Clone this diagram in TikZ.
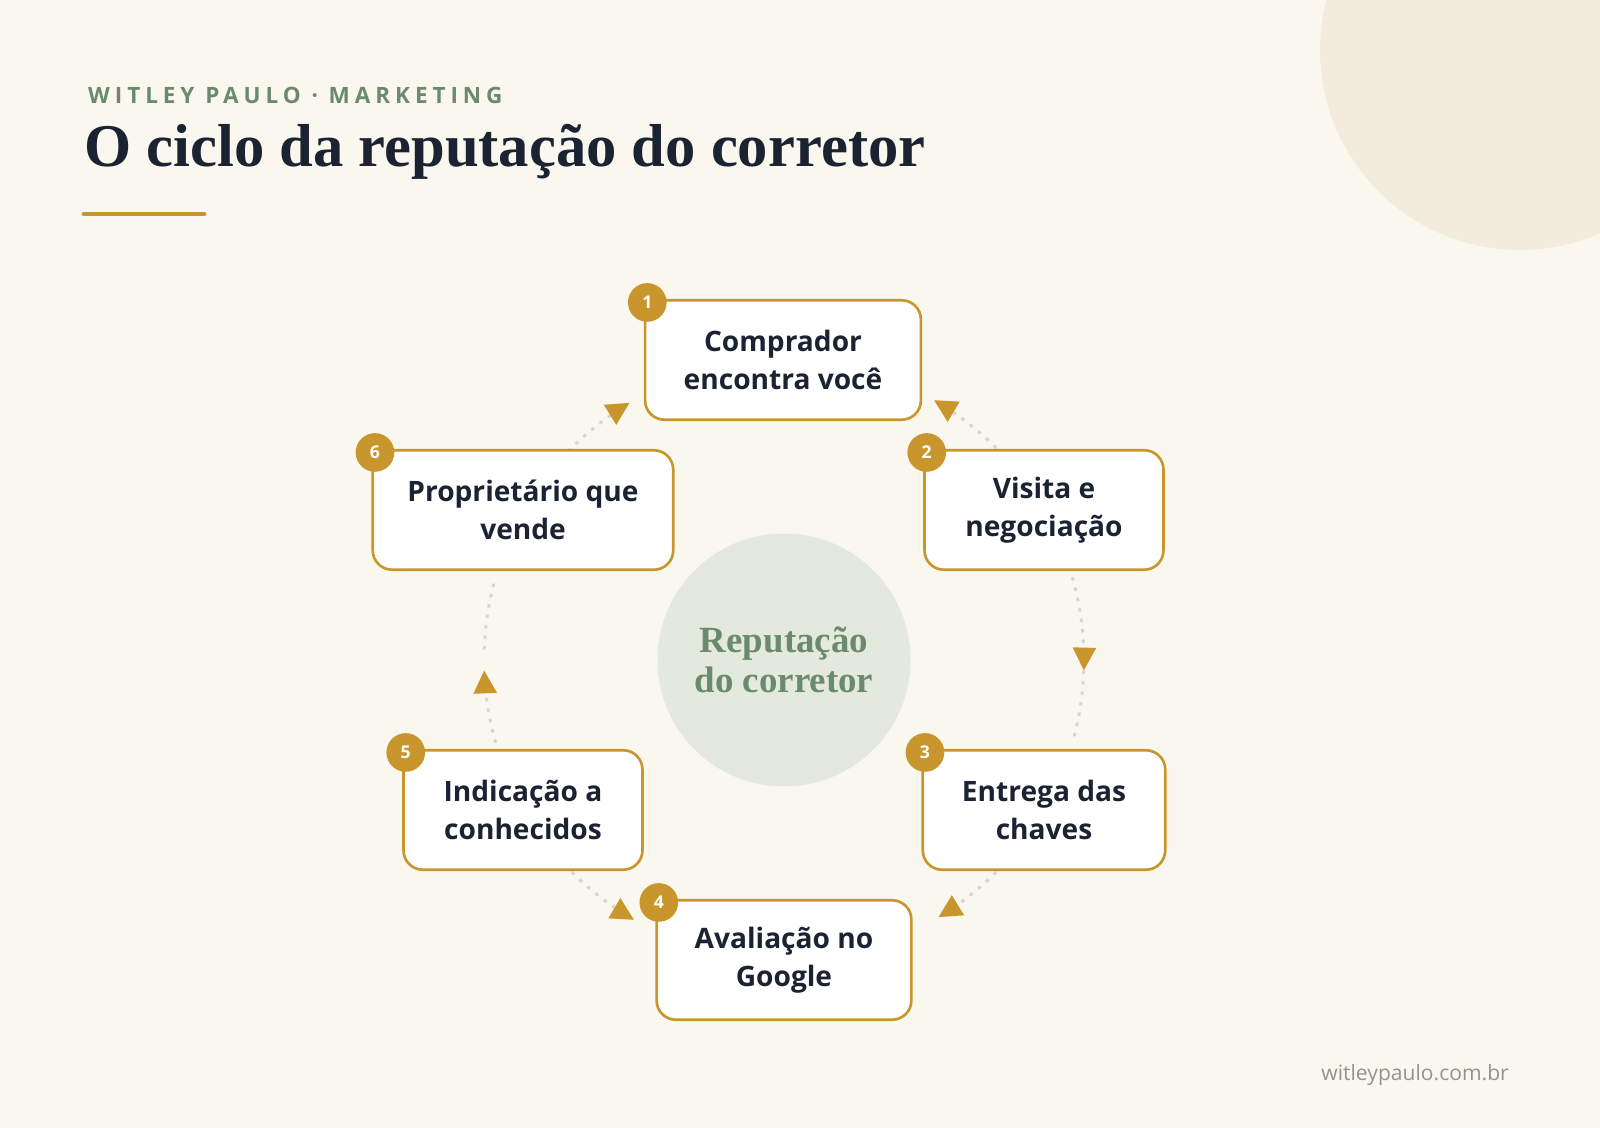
\documentclass[tikz,border=0pt]{standalone}
\usepackage{fontspec}
\setmainfont{Liberation Serif}
\setsansfont{Open Sans}
\newfontfamily\headfont[LetterSpace=22]{Open Sans}
\usetikzlibrary{arrows.meta,positioning}
\definecolor{bgcream}{HTML}{FAF7EF}
\definecolor{deco}{HTML}{F3ECDD}
\definecolor{gold}{HTML}{C9962E}
\definecolor{ink}{HTML}{1B2333}
\definecolor{sage}{HTML}{6B8A6B}
\definecolor{hub}{HTML}{E3E9DC}
\definecolor{dots}{HTML}{D9D6CC}
\tikzset{
  stage/.style={
    draw=gold, line width=1.5pt, fill=white, rounded corners=11pt,
    minimum height=68pt, align=center, text=ink,
    font=\sffamily\bfseries\fontsize{16}{21.5}\selectfont
  },
  badge/.style={
    circle, fill=gold, minimum size=22pt, inner sep=0pt, text=white,
    font=\sffamily\bfseries\fontsize{10}{10}\selectfont
  },
  link/.style={
    dots, line width=1.7pt, dash pattern=on 2pt off 4pt
  },
  head/.style={
    -{Triangle[length=13pt,width=13pt,color=gold]}
  }
}
\newcommand{\ringarc}[3][]{%
  \draw[link,#1] plot[domain=#2:#3,samples=25] ({784+300*cos(\x)},{660-300*sin(\x)});}
\begin{document}
\begin{tikzpicture}[x=0.02cm,y=-0.02cm]
  \fill[bgcream] (0,0) rectangle (1600,1128);
  \useasboundingbox (0,0) rectangle (1600,1128);
  \fill[deco] (1520,50) circle (200);

  % header
  \node[anchor=west,text=sage,font=\headfont\bfseries\fontsize{12.8}{14}\selectfont] (kicker) at (82,95) {WITLEY PAULO · MARKETING};
  \node[anchor=west,text=ink,font=\bfseries\fontsize{34.5}{38}\selectfont] (title) at (78,152) {O ciclo da reputação do corretor};
  \draw[gold,line width=2.8pt,line cap=round] (84,214) -- (204,214);

  % ring
  \ringarc[head]{136}{121}
  \ringarc[head]{45}{60}
  \ringarc[head]{16}{-2}
  \ringarc{-2}{-16}
  \ringarc[head]{-45}{-59}
  \ringarc[head]{-135}{-120}
  \ringarc[head]{-164}{-178}
  \ringarc{178}{164}

  % hub
  \node[circle,fill=hub,inner sep=0pt,minimum size=144pt] (hub) at (784,660) {};
  \node[text=sage,align=center,font=\bfseries\fontsize{21}{22.5}\selectfont] at (hub) {Reputação\\do corretor};

  % stages
  \node[stage,minimum width=157pt] (s1) at (783,360) {Comprador\\encontra você};
  \node[stage,minimum width=136pt] (s2) at (1044,510) {Visita e\\negociação};
  \node[stage,minimum width=138pt] (s3) at (1044,810) {Entrega das\\chaves};
  \node[stage,minimum width=145pt] (s4) at (784,960) {Avaliação no\\Google};
  \node[stage,minimum width=136pt] (s5) at (523,810) {Indicação a\\conhecidos};
  \node[stage,minimum width=171pt] (s6) at (523,510) {Proprietário que\\vende};

  \foreach \s/\n in {s1/1,s2/2,s3/3,s4/4,s5/5,s6/6}
    \node[badge] (b\n) at ([shift={(2pt,-2pt)}]\s.north west) {\n};

  % footer
  \node[anchor=east,text=gray!85,font=\sffamily\fontsize{12}{13}\selectfont] (site) at (1515,1075) {witleypaulo.com.br};
\end{tikzpicture}
\end{document}
